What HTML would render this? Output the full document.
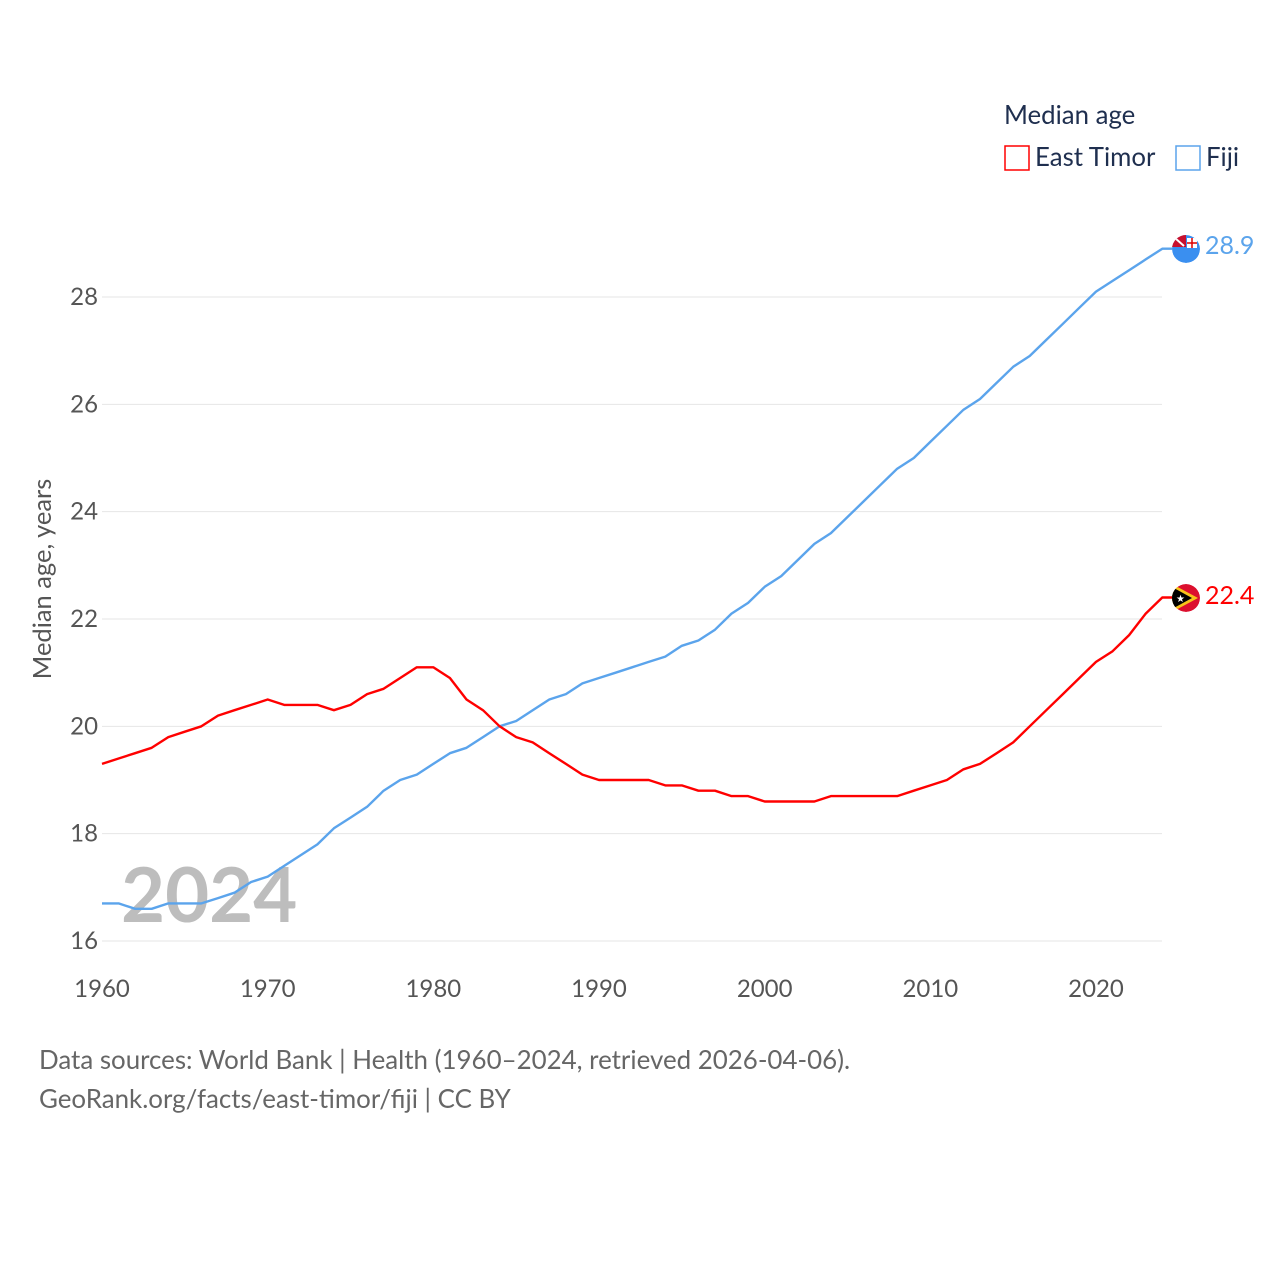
<!DOCTYPE html>
<html><head><meta charset="utf-8"><style>
body{margin:0;background:#fff;font-family:"Liberation Sans",sans-serif}
svg text{font-family:"Lato","Liberation Sans",sans-serif}
</style></head><body>
<svg id="chart" width="1280" height="1280" xmlns="http://www.w3.org/2000/svg">
<defs>
<clipPath id="cf"><circle cx="1186" cy="249" r="14"/></clipPath>
<clipPath id="ct"><circle cx="1186" cy="598" r="14"/></clipPath>
</defs>
<g id="grid"></g>
<g id="yticks"></g>
<g id="xticks"></g>
<text x="121" y="922" font-size="76" font-weight="bold" fill="#bdbdbd">2024</text>
<g id="lines"></g>
<text transform="translate(51,579) rotate(-90)" text-anchor="middle" font-size="25.5" fill="#555">Median age, years</text>
<text x="1004" y="124" font-size="25.8" fill="#1f2f4f">Median age</text>
<rect x="1005" y="146" width="24" height="24" fill="none" stroke="#ff0000" stroke-width="1.5"/>
<text x="1035" y="166" font-size="25.8" fill="#1f2f4f">East Timor</text>
<rect x="1176" y="146" width="24" height="24" fill="none" stroke="#5ba4ec" stroke-width="1.5"/>
<text x="1206" y="166" font-size="25.8" fill="#1f2f4f">Fiji</text>
<g clip-path="url(#cf)"><circle cx="1186" cy="249" r="14" fill="#3a8ff0"/><rect x="1172" y="235" width="14" height="12" fill="#c8102e"/><line x1="1175" y1="238" x2="1184" y2="246" stroke="#fff" stroke-width="2"/><rect x="1187" y="238" width="10" height="10" fill="#fff"/><line x1="1192" y1="238" x2="1192" y2="248" stroke="#d00" stroke-width="1.5"/><line x1="1187" y1="243" x2="1197" y2="243" stroke="#d00" stroke-width="1.5"/></g>
<g clip-path="url(#ct)"><circle cx="1186" cy="598" r="14" fill="#dc0f2e"/><path d="M1172,584 L1198,598 L1172,612 Z" fill="#f7c31a"/><path d="M1172,587 L1192,598 L1172,609 Z" fill="#000"/><text x="1176" y="602" font-size="10" fill="#fff">★</text></g>
<text x="1205" y="254" font-size="25" fill="#5ba4ec">28.9</text>
<text x="1205" y="604" font-size="25" fill="#ff0000">22.4</text>
<text x="39" y="1069" font-size="25.9" fill="#666">Data sources: World Bank | Health (1960–2024, retrieved 2026-04-06).</text>
<text x="39" y="1108" font-size="25.9" fill="#666">GeoRank.org/facts/east-timor/fiji | CC BY</text>
</svg>
<script>
const years=[];for(let y=1960;y<=2024;y++)years.push(y);
const eastTimor=[19.3,19.4,19.5,19.6,19.8,19.9,20.0,20.2,20.3,20.4,20.5,20.4,20.4,20.4,20.3,20.4,20.6,20.7,20.9,21.1,21.1,20.9,20.5,20.3,20.0,19.8,19.7,19.5,19.3,19.1,19.0,19.0,19.0,19.0,18.9,18.9,18.8,18.8,18.7,18.7,18.6,18.6,18.6,18.6,18.7,18.7,18.7,18.7,18.7,18.8,18.9,19.0,19.2,19.3,19.5,19.7,20.0,20.3,20.6,20.9,21.2,21.4,21.7,22.1,22.4];
const fiji=[16.7,16.7,16.6,16.6,16.7,16.7,16.7,16.8,16.9,17.1,17.2,17.4,17.6,17.8,18.1,18.3,18.5,18.8,19.0,19.1,19.3,19.5,19.6,19.8,20.0,20.1,20.3,20.5,20.6,20.8,20.9,21.0,21.1,21.2,21.3,21.5,21.6,21.8,22.1,22.3,22.6,22.8,23.1,23.4,23.6,23.9,24.2,24.5,24.8,25.0,25.3,25.6,25.9,26.1,26.4,26.7,26.9,27.2,27.5,27.8,28.1,28.3,28.5,28.7,28.9];
const yTicks=[16,18,20,22,24,26,28];
const xTicks=[1960,1970,1980,1990,2000,2010,2020];
const X=v=>102+(v-1960)*(1096-102)/60;
const Y=v=>941-(v-16)*(941-297)/12;
const NS="http://www.w3.org/2000/svg";
function mk(tag,parent,attrs){const e=document.createElementNS(NS,tag);for(const k in attrs)e.setAttribute(k,attrs[k]);document.getElementById(parent).appendChild(e);return e;}
yTicks.forEach(t=>{
 const l=mk('line','grid',{x1:102,x2:1162,y1:Y(t),y2:Y(t),stroke:'#e6e6e6','stroke-width':1});
 
 
 const tx=mk('text','yticks',{x:98,y:Y(t)+8,'text-anchor':'end','font-size':24,fill:'#555'});
 tx.textContent=t;
 
 
});
xTicks.forEach(t=>{
 const tx=mk('text','xticks',{x:X(t),y:997,'text-anchor':'middle','font-size':24,fill:'#555'});
 tx.textContent=t;
 
 
});
function line(vals,color,name){
 let d=vals.map((v,i)=>(i?'L':'M')+X(years[i]).toFixed(1)+','+Y(v).toFixed(1)).join(' ');
 d+=' L1172,'+Y(vals[vals.length-1]).toFixed(1);
 const p=mk('path','lines',{d:d,fill:'none',stroke:color,'stroke-width':2.4,'stroke-linejoin':'round'});
 
 
}
line(fiji,'#5ba4ec','fiji-line');
line(eastTimor,'#ff0000','east-timor-line');
</script>
</body></html>
